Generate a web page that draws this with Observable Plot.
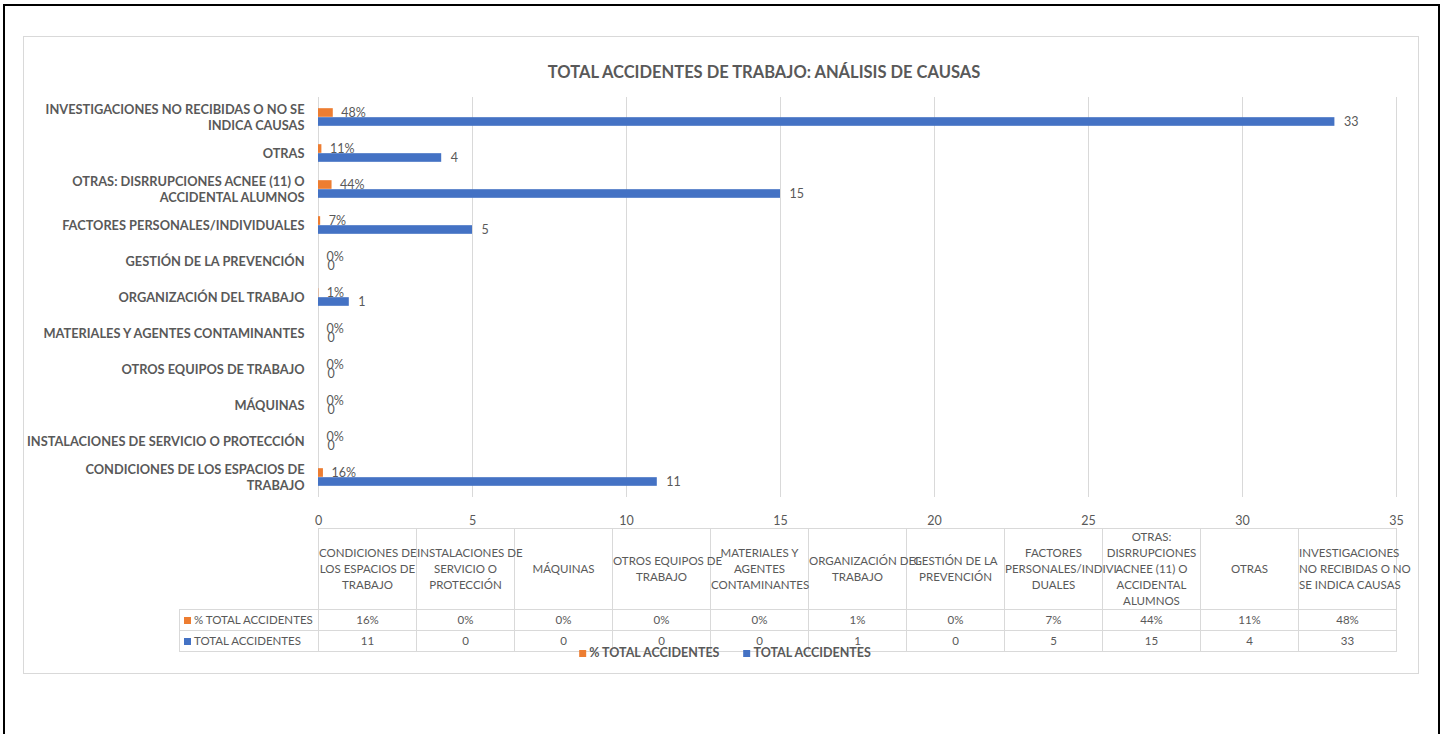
<!DOCTYPE html>
<html>
<head>
<meta charset="utf-8">
<script src="https://cdn.jsdelivr.net/npm/d3@7"></script>
<script src="https://cdn.jsdelivr.net/npm/@observablehq/plot@0.6"></script>
<style>
  html, body { margin: 0; padding: 0; background: #fff; }
  body { width: 1448px; height: 734px; overflow: hidden; position: relative; font-family: Lato, "Open Sans", sans-serif; color: #595959; }
  #outer { position: absolute; left: 3px; top: 4px; width: 1433px; height: 800px; border: 2px solid #000; box-sizing: content-box; }
  #inner { position: absolute; left: 23px; top: 36px; width: 1394px; height: 636px; border: 1px solid #d9d9d9; }
  #title { position: absolute; top: 62px; left: 764px; transform: translateX(-50%); white-space: nowrap; font-weight: bold; font-size: 16.5px; color: #595959; }
  #chart { position: absolute; left: 0; top: 90px; }
  #table { position: absolute; border-collapse: collapse; table-layout: fixed; font-size: 11.5px; color: #595959; }
  #table td { border: 1px solid #d9d9d9; text-align: center; padding: 0; white-space: pre; overflow: visible; line-height: 16px; }
  #table td.blank { border-top: none; border-left: none; }
  #table td.rowlab { text-align: left; padding-left: 4px; }
  .sw { display: inline-block; width: 7px; height: 7px; margin-right: 3px; vertical-align: 0px; }
  #legend { position: absolute; top: 645px; left: 725px; transform: translateX(-50%); white-space: nowrap; font-size: 12.5px; font-weight: bold; color: #595959; }
  #legend span.item { margin: 0 12px; }
</style>
</head>
<body>
<div id="outer"></div>
<div id="inner"></div>
<div id="title">TOTAL ACCIDENTES DE TRABAJO: ANÁLISIS DE CAUSAS</div>
<div id="chart"></div>
<table id="table"></table>
<div id="legend"></div>
<script>
// ---- data ----
const categories = [
  "CONDICIONES DE LOS ESPACIOS DE TRABAJO",
  "INSTALACIONES DE SERVICIO O PROTECCIÓN",
  "MÁQUINAS",
  "OTROS EQUIPOS DE TRABAJO",
  "MATERIALES Y AGENTES CONTAMINANTES",
  "ORGANIZACIÓN DEL TRABAJO",
  "GESTIÓN DE LA PREVENCIÓN",
  "FACTORES PERSONALES/INDIVIDUALES",
  "OTRAS: DISRRUPCIONES ACNEE (11) O ACCIDENTAL ALUMNOS",
  "OTRAS",
  "INVESTIGACIONES NO RECIBIDAS O NO SE INDICA CAUSAS"
];
const axisLabels = [
  "CONDICIONES DE LOS ESPACIOS DE\nTRABAJO",
  "INSTALACIONES DE SERVICIO O PROTECCIÓN",
  "MÁQUINAS",
  "OTROS EQUIPOS DE TRABAJO",
  "MATERIALES Y AGENTES CONTAMINANTES",
  "ORGANIZACIÓN DEL TRABAJO",
  "GESTIÓN DE LA PREVENCIÓN",
  "FACTORES PERSONALES/INDIVIDUALES",
  "OTRAS: DISRRUPCIONES ACNEE (11) O\nACCIDENTAL ALUMNOS",
  "OTRAS",
  "INVESTIGACIONES NO RECIBIDAS O NO SE\nINDICA CAUSAS"
];
const headerLabels = [
  "CONDICIONES DE\nLOS ESPACIOS DE\nTRABAJO",
  "INSTALACIONES DE\nSERVICIO O\nPROTECCIÓN",
  "MÁQUINAS",
  "OTROS EQUIPOS DE\nTRABAJO",
  "MATERIALES Y\nAGENTES\nCONTAMINANTES",
  "ORGANIZACIÓN DEL\nTRABAJO",
  "GESTIÓN DE LA\nPREVENCIÓN",
  "FACTORES\nPERSONALES/INDIVI\nDUALES",
  "OTRAS:\nDISRRUPCIONES\nACNEE (11) O\nACCIDENTAL\nALUMNOS",
  "OTRAS",
  "INVESTIGACIONES\nNO RECIBIDAS O NO\nSE INDICA CAUSAS"
];
const pctTotal = [0.16, 0, 0, 0, 0, 0.01, 0, 0.07, 0.44, 0.11, 0.48];
const totalAccidentes = [11, 0, 0, 0, 0, 1, 0, 5, 15, 4, 33];
const seriesNames = ["% TOTAL ACCIDENTES", "TOTAL ACCIDENTES"];
const seriesColors = ["#ED7D31", "#4472C4"];
const xTicks = [0, 5, 10, 15, 20, 25, 30, 35];

// ---- build ----
const fmtPct = d3.format(".0%");
const pctRows = categories.map((c, i) => ({cat: c, value: pctTotal[i], label: fmtPct(pctTotal[i])}));
const totRows = categories.map((c, i) => ({cat: c, value: totalAccidentes[i], label: String(totalAccidentes[i])}));

const H = 440, mTop = 7, mBottom = 33;
const band = (H - mTop - mBottom) / categories.length;
const barH = 9;
const half = band / 2;

const chart = Plot.plot({
  width: 1448,
  height: H,
  marginLeft: 318,
  marginRight: 52,
  marginTop: mTop,
  marginBottom: mBottom,
  style: {fontFamily: "Lato, 'Open Sans', sans-serif", color: "#595959", background: "transparent"},
  x: {domain: [0, 35], label: null},
  y: {domain: categories.slice().reverse(), padding: 0, axis: null},
  marks: [
    Plot.gridX(xTicks, {stroke: "#d9d9d9", strokeOpacity: 1, strokeWidth: 1}),
    Plot.axisX(xTicks, {tickSize: 0, tickPadding: 19, fontSize: 12.5, fill: "#595959", label: null, tickFormat: d => String(d)}),
    Plot.barX(pctRows, {x: "value", y: "cat", fill: seriesColors[0], insetTop: half - barH, insetBottom: half}),
    Plot.barX(totRows, {x: "value", y: "cat", fill: seriesColors[1], insetTop: half, insetBottom: half - barH}),
    Plot.text(pctRows, {x: "value", y: "cat", text: "label", dy: -barH / 2, dx: 8, textAnchor: "start", fontSize: 12.5, fill: "#595959"}),
    Plot.text(totRows, {x: "value", y: "cat", text: "label", dy: barH / 2, dx: 9, textAnchor: "start", fontSize: 12.5, fill: "#595959"}),
    Plot.text(categories, {y: d => d, text: (d, i) => axisLabels[i], frameAnchor: "left", dx: -14, dy: -1, textAnchor: "end", fontWeight: "bold", fontSize: 12.8, fill: "#595959", lineHeight: 1.3})
  ]
});
document.getElementById("chart").appendChild(chart);

// ---- data table aligned with the x scale ----
const xs = chart.scale("x");
const left = xs.apply(0), right = xs.apply(35);
const colW = (right - left) / categories.length;
const tableLeft = 179;
const tbl = document.getElementById("table");
tbl.style.left = tableLeft + "px";
tbl.style.top = "528px";
tbl.style.width = (right - tableLeft) + "px";
const cg = document.createElement("colgroup");
const c0 = document.createElement("col"); c0.style.width = (left - tableLeft) + "px"; cg.appendChild(c0);
categories.forEach(() => { const c = document.createElement("col"); c.style.width = colW + "px"; cg.appendChild(c); });
tbl.appendChild(cg);

const hr = document.createElement("tr"); hr.style.height = "81px";
const blank = document.createElement("td"); blank.className = "blank"; hr.appendChild(blank);
headerLabels.forEach(h => { const td = document.createElement("td"); td.textContent = h; hr.appendChild(td); });
tbl.appendChild(hr);

[[pctRows, 0], [totRows, 1]].forEach(([rows, s]) => {
  const tr = document.createElement("tr"); tr.style.height = "21px";
  const lab = document.createElement("td"); lab.className = "rowlab";
  lab.innerHTML = `<span class="sw" style="background:${seriesColors[s]}"></span>${seriesNames[s]}`;
  tr.appendChild(lab);
  rows.forEach(r => { const td = document.createElement("td"); td.textContent = r.label; tr.appendChild(td); });
  tbl.appendChild(tr);
});

// ---- legend ----
document.getElementById("legend").innerHTML = seriesNames.map((n, i) =>
  `<span class="item"><span class="sw" style="background:${seriesColors[i]}"></span>${n}</span>`).join("");
</script>
</body>
</html>
